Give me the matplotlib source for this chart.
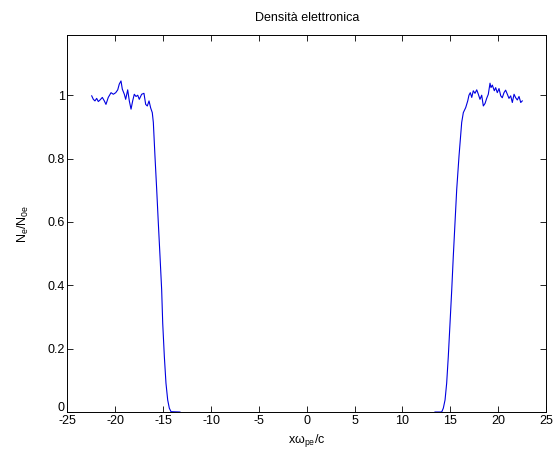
import matplotlib
matplotlib.use('Agg')
import matplotlib.pyplot as plt
import matplotlib.transforms as mtransforms

# density profile, left plateau + falling edge
x_left = [-22.47, -22.30, -22.13, -21.95, -21.78, -21.60, -21.36, -21.15, -20.98, -20.74,
          -20.45, -20.21, -19.96, -19.75, -19.59, -19.41, -19.27, -19.06, -18.92, -18.71,
          -18.54, -18.36, -18.19, -18.02, -17.84, -17.66, -17.50, -17.25, -17.01, -16.83,
          -16.66, -16.48, -16.31, -16.14, -16.03, -15.86, -15.68, -15.51, -15.33, -15.16,
          -15.05, -14.88, -14.71, -14.53, -14.36, -14.18, -13.25]
n_left = [0.998, 0.987, 0.982, 0.990, 0.980, 0.985, 0.993, 0.982, 0.971, 0.993,
          1.008, 1.003, 1.008, 1.017, 1.035, 1.045, 1.019, 1.003, 0.987, 1.017,
          0.982, 0.956, 0.982, 1.003, 0.996, 1.000, 0.987, 1.003, 1.006, 0.971,
          0.966, 0.982, 0.960, 0.945, 0.914, 0.808, 0.703, 0.597, 0.490, 0.386,
          0.280, 0.175, 0.091, 0.038, 0.012, 0.001, 0.0]

# rising edge + right plateau
x_right = [13.40, 14.10, 14.27, 14.45, 14.62, 14.79, 14.97, 15.15, 15.31, 15.49,
           15.67, 15.91, 16.19, 16.36, 16.61, 16.82, 16.95, 17.09, 17.24, 17.40,
           17.58, 17.76, 17.93, 18.10, 18.28, 18.45, 18.63, 18.80, 18.97, 19.15,
           19.25, 19.39, 19.60, 19.74, 19.91, 20.09, 20.27, 20.43, 20.61, 20.78,
           20.96, 21.13, 21.31, 21.48, 21.66, 21.83, 22.00, 22.18, 22.36, 22.52]
n_right = [0.0, 0.0, 0.012, 0.038, 0.091, 0.175, 0.280, 0.386, 0.490, 0.597,
           0.703, 0.808, 0.914, 0.945, 0.961, 0.982, 1.000, 1.008, 0.993, 1.014,
           1.006, 1.017, 1.003, 0.987, 1.000, 0.966, 0.974, 0.990, 1.003, 1.038,
           1.024, 1.032, 1.014, 1.024, 1.008, 1.021, 0.998, 0.992, 1.008, 1.016,
           1.003, 0.990, 0.998, 0.977, 1.003, 0.992, 0.985, 0.996, 0.977, 0.982]

plt.rcParams['font.family'] = ['Liberation Sans', 'DejaVu Sans']
plt.rcParams['mathtext.default'] = 'regular'
plt.rcParams['axes.unicode_minus'] = False
plt.rcParams['font.size'] = 9

fig = plt.figure(figsize=(5.55, 4.59), dpi=100)
ax = fig.add_axes([0.1216, 0.1024, 0.8622, 0.8213])

ax.plot(x_left, n_left, color='#0000e0', lw=0.8)
ax.plot(x_right, n_right, color='#0000e0', lw=0.8)

ax.set_xlim(-25, 25)
ax.set_ylim(0, 1.19)
ax.set_xticks(range(-25, 26, 5))
ax.set_yticks([0, 0.2, 0.4, 0.6, 0.8, 1])
ax.set_yticklabels(['0', '0.2', '0.4', '0.6', '0.8', '1'])
ax.tick_params(direction='in', top=True, right=True, length=4, width=0.6, pad=2)
for s in ax.spines.values():
    s.set_linewidth(0.7)

# lift the "0" so it sits just above the "-25"
zero_lbl = ax.get_yticklabels()[0]
zero_lbl.set_transform(zero_lbl.get_transform() +
                       mtransforms.ScaledTranslation(0, 4 / 72, fig.dpi_scale_trans))

ax.set_title('Densità elettronica', fontsize=9, pad=10)
ax.set_xlabel('x\u03c9$_{pe}$/c', labelpad=4)
ax.set_ylabel('N$_e$/N$_{0e}$', labelpad=12)

fig.savefig('out.png', dpi=100)
